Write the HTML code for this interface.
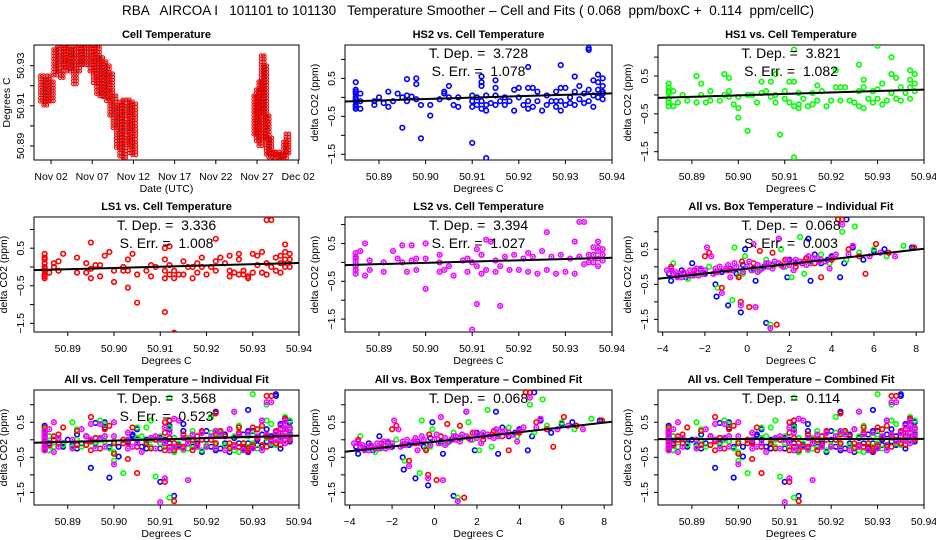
<!DOCTYPE html>
<html><head><meta charset="utf-8">
<style>
html,body{margin:0;padding:0;background:#fff}
svg{display:block}
text{font-family:"Liberation Sans",sans-serif;white-space:pre}
</style></head>
<body>
<svg id="chart" width="936" height="540" viewBox="0 0 936 540" xmlns="http://www.w3.org/2000/svg">
<text x="468" y="15" text-anchor="middle" font-size="13.5">RBA   AIRCOA I   101101 to 101130   Temperature Smoother – Cell and Fits ( 0.068  ppm/boxC +  0.114  ppm/cellC)</text>
</svg>
<script>
// ---- Panel 1: cell temperature time series (days since Nov 1) ----
const tsDays = [0.9,1.3,1.7,2.1,2.5,2.9,3.3,3.7,4.1,4.5,4.9,5.3,5.7,6.1,6.5,6.9,7.3,7.7,8.1,8.5,8.9,9.3,9.7,10.1,10.5,10.9,11.3,11.7,12.1,26.8,27.1,27.4,27.7,28.0,28.3,28.6,28.9,29.2,29.5,29.8,30.1,30.4,30.7];
const tsHigh = [50.925,50.923,50.925,50.922,50.938,50.940,50.940,50.939,50.940,50.938,50.940,50.940,50.939,50.940,50.940,50.940,50.939,50.940,50.934,50.932,50.930,50.926,50.915,50.910,50.912,50.913,50.913,50.912,50.911,50.915,50.918,50.922,50.935,50.930,50.905,50.894,50.887,50.886,50.887,50.886,50.886,50.892,50.896];
const tsLow = [50.912,50.910,50.911,50.912,50.925,50.926,50.924,50.928,50.926,50.928,50.920,50.927,50.930,50.929,50.930,50.926,50.920,50.916,50.914,50.914,50.912,50.905,50.898,50.889,50.884,50.884,50.890,50.886,50.885,50.895,50.892,50.890,50.905,50.893,50.885,50.884,50.884,50.884,50.884,50.884,50.884,50.884,50.885];
const tsTickDays = [2,7,12,17,22,27,32];
const tsTickLabels = ["Nov 02","Nov 07","Nov 12","Nov 17","Nov 22","Nov 27","Dec 02"];

// ---- Cell temperature scatter data ----
const hs2Cell = [50.885,50.885,50.885,50.885,50.885,50.885,50.885,50.885,50.885,50.885,50.886,50.886,50.886,50.889,50.889,50.890,50.891,50.892,50.892,50.893,50.894,50.895,50.895,50.896,50.896,50.896,50.897,50.898,50.898,50.898,50.899,50.899,50.901,50.901,50.903,50.904,50.904,50.905,50.905,50.906,50.907,50.907,50.910,50.910,50.910,50.910,50.911,50.911,50.912,50.912,50.912,50.912,50.912,50.913,50.913,50.913,50.913,50.914,50.915,50.915,50.915,50.915,50.916,50.917,50.917,50.918,50.919,50.919,50.920,50.920,50.921,50.922,50.922,50.922,50.922,50.923,50.923,50.924,50.924,50.925,50.926,50.926,50.927,50.928,50.928,50.928,50.929,50.929,50.929,50.929,50.930,50.930,50.931,50.931,50.932,50.932,50.932,50.933,50.933,50.934,50.934,50.935,50.935,50.935,50.935,50.936,50.936,50.936,50.937,50.937,50.937,50.937,50.938,50.938,50.938,50.938,50.938];
const hs2Delta = [0.4,0.15,0.1,0,-0.1,-0.2,-0.3,0.2,-0.05,-0.25,0.1,-0.1,-0.3,-0.1,-0.2,0,-0.15,0.15,-0.25,-0.1,0.1,-0.8,0,0.48,0.05,-0.1,0.02,0.5,0.35,-0.05,-0.2,-1.08,-0.2,-0.48,-0.05,0.1,0.15,0.3,0,-0.2,0,-0.25,-1.2,0.05,-0.1,-0.25,0,-0.2,0.55,0.4,0.3,-0.1,-0.3,-1.6,-0.35,0.05,-0.2,-0.15,0.45,0.25,0.05,-0.2,-0.1,0,-0.2,-0.1,-0.35,0.2,0.25,0,-0.2,0.8,0.25,-0.1,-0.3,0.25,-0.25,0.15,-0.1,-0.35,-0.2,0.05,-0.1,0.15,-0.25,-0.1,0.85,0.25,-0.35,-0.1,0.25,-0.2,-0.15,0,0.55,0.15,-0.2,0.3,-0.05,0.1,-0.15,1.3,1.25,0.2,-0.1,0.45,0.05,-0.25,0.6,0.4,0.2,0,0.5,0.3,0.1,0.15,-0.05];
const hs1Cell = [50.885,50.885,50.885,50.885,50.885,50.885,50.885,50.886,50.886,50.887,50.888,50.889,50.891,50.891,50.892,50.892,50.893,50.894,50.894,50.896,50.897,50.897,50.898,50.898,50.898,50.899,50.900,50.900,50.900,50.902,50.902,50.903,50.904,50.905,50.905,50.906,50.907,50.907,50.908,50.908,50.908,50.909,50.910,50.910,50.911,50.911,50.912,50.912,50.912,50.912,50.913,50.913,50.913,50.914,50.915,50.916,50.916,50.917,50.917,50.918,50.919,50.920,50.921,50.921,50.922,50.922,50.923,50.924,50.925,50.926,50.926,50.926,50.927,50.927,50.927,50.928,50.929,50.929,50.930,50.930,50.930,50.931,50.931,50.932,50.933,50.933,50.933,50.934,50.934,50.935,50.935,50.936,50.937,50.937,50.937,50.937,50.938,50.938,50.938];
const hs1Delta = [0.3,0.2,0.1,-0.1,-0.3,0.05,-0.2,0.1,-0.3,-0.2,0,-0.15,0.5,-0.2,0.3,0,-0.2,0.1,-0.15,-0.15,0.55,0,0.45,0.1,-0.05,-0.25,-0.05,-0.35,-0.6,-0.95,0,0,-0.2,0.35,0.05,0.1,0.35,-0.05,0.55,0,-0.2,-1.05,0.1,-0.1,0.35,-0.2,1.2,0.35,-0.3,-1.65,0.05,-0.25,-0.35,-0.1,-0.3,0.05,-0.25,0.25,-0.15,0.1,-0.3,-0.15,0.65,0.2,0.2,-0.15,0.2,-0.15,-0.2,0.8,0.1,-0.3,0.4,0.2,-0.35,-0.1,0.1,-0.2,1.3,0.15,-0.1,0.3,-0.25,-0.15,1.0,0.55,0.05,0.45,-0.1,0.2,-0.15,0.05,0.65,0.4,0.2,-0.1,0.55,0.3,0.1];
const ls1Cell = [50.885,50.885,50.885,50.885,50.885,50.885,50.885,50.885,50.885,50.885,50.886,50.887,50.887,50.888,50.888,50.889,50.892,50.892,50.894,50.894,50.895,50.895,50.895,50.896,50.897,50.897,50.898,50.899,50.900,50.900,50.902,50.902,50.903,50.903,50.903,50.904,50.905,50.905,50.907,50.908,50.908,50.909,50.911,50.911,50.911,50.911,50.911,50.912,50.912,50.912,50.913,50.913,50.913,50.914,50.915,50.915,50.916,50.917,50.917,50.918,50.918,50.919,50.919,50.920,50.921,50.922,50.922,50.922,50.923,50.924,50.925,50.925,50.925,50.926,50.927,50.927,50.927,50.928,50.928,50.929,50.929,50.930,50.930,50.931,50.931,50.932,50.932,50.933,50.933,50.933,50.934,50.934,50.935,50.935,50.936,50.936,50.936,50.937,50.937,50.937,50.937,50.938,50.938,50.938];
const ls1Delta = [0.35,0.2,0.1,0,-0.1,-0.2,-0.3,-0.25,0.25,-0.05,-0.15,0.1,0,0.15,-0.1,0.35,0.25,-0.15,0.1,-0.15,0.65,-0.3,-0.05,0.05,0.05,-0.25,0.3,0.4,-0.1,-0.4,0,-0.1,0.2,-0.1,-0.55,0.35,-0.95,-0.2,-0.1,0.05,-0.25,0,0.5,0.2,-0.1,-1.2,-0.3,0.55,0.05,-0.2,-1.75,-0.1,-0.3,-0.2,0.15,-0.2,0,-0.3,0,0.1,-0.15,0.25,0,-0.2,0,0.75,0.15,-0.1,0.25,0.1,0.3,-0.1,-0.25,-0.15,0.35,0.2,-0.2,-0.1,-0.2,-0.25,-0.3,0.35,-0.15,0.3,0.05,0.4,-0.15,1.25,0.1,-0.2,1.25,0,0.25,-0.1,0.3,0.1,-0.15,0.6,0.4,0.2,0,0.35,0.2,0];
const ls2Cell = [50.885,50.885,50.885,50.885,50.885,50.885,50.885,50.886,50.887,50.887,50.888,50.888,50.891,50.891,50.893,50.894,50.895,50.895,50.896,50.897,50.897,50.898,50.898,50.900,50.900,50.900,50.903,50.903,50.903,50.904,50.905,50.906,50.908,50.909,50.909,50.910,50.910,50.911,50.911,50.911,50.912,50.912,50.913,50.913,50.914,50.915,50.915,50.916,50.916,50.917,50.918,50.919,50.920,50.921,50.922,50.922,50.923,50.924,50.925,50.926,50.926,50.927,50.928,50.929,50.930,50.931,50.932,50.932,50.933,50.933,50.934,50.934,50.935,50.935,50.936,50.936,50.936,50.937,50.937,50.937,50.937,50.937,50.938,50.938,50.938];
const ls2Delta = [0.25,0.1,0,-0.1,-0.2,-0.3,0.15,0.3,0.5,-0.35,0.05,-0.2,0,-0.25,0.3,0.1,0.45,0,-0.25,0.45,0.05,0.1,-0.2,0.5,0.1,-0.7,0.2,0,-0.25,-0.2,-0.1,-0.35,0.05,0.1,-0.25,-1.78,0,0.35,-0.1,-1.1,0.2,-0.3,0.6,-0.2,0.55,0.05,-0.25,-1.15,-0.1,0.15,-0.2,0.2,-0.2,0.1,0.25,-0.25,0.15,-0.3,0.3,0.8,-0.2,0.15,-0.3,0.2,-0.25,0.1,0.55,-0.3,1.07,0.15,1.07,-0.05,0.2,0,0.4,0.2,0,0.55,0.4,0.3,0.1,-0.1,0.35,0.2,0.05];

// ---- Box temperature scatter data ----
const hs2Box = [-3.7,-3.6,-3.1,-2.6,-2.2,-1.5,-1.45,-0.9,-0.3,-0.5,-0.1,0.4,0.9,1.5,1.9,2.3,2.9,3.0,3.5,4.0,4.4,4.7,4.6,5.0,5.5,6.0,6.5,7.8,-2.9,0.8,2.0,3.2,-1.2,-0.2,-3.3,-2.0,-0.8,0.3,1.2,2.6,3.8];
const hs2BoxDelta = [-0.2,-0.4,-0.1,0.1,-0.1,-0.5,-0.85,-1.1,-1.3,-0.2,0.5,-0.4,-1.6,0.8,-0.3,0.1,0.8,-0.4,0.1,0.3,-0.3,1.35,0.1,0.55,0.2,0.45,0.5,0.55,-0.3,0,0.2,0.35,-0.15,0.05,-0.25,-0.2,-0.05,-0.05,0.05,0.1,0.2];
const hs1Box = [-3.5,-2.8,-2.2,-1.4,-0.7,-0.6,-0.1,0.3,1.1,1.6,2.5,2.7,3.5,4.5,5.1,4.7,5.3,6.0,6.6,7.4,-1.8,0.9,2.1,3.9,-3.0,1.3,-0.2,-2.5,-0.4,0.6,1.8,3.0];
const hs1BoxDelta = [0.1,-0.35,-0.2,-0.6,-0.95,0.55,0.3,-0.1,-1.65,0.5,0.85,-0.2,0.35,1.0,1.15,0.2,0.4,0.5,0.3,0.6,0,0.2,-0.3,0.1,-0.15,0.05,-0.2,-0.25,-0.25,-0.1,0,0.15];
const ls1Box = [-3.6,-3.0,-2.0,-1.8,-1.2,-0.3,-0.25,0.1,1.4,0.6,1.2,1.8,2.8,3.5,4.3,4.5,4.8,5.6,6.1,6.7,7.9,-0.4,2.3,3.2,4.0,5.3,-2.5,0.3,-1.5,-0.9,1.6,2.7];
const ls1BoxDelta = [0,-0.2,0.3,0.4,-0.6,-1.0,0.15,-1.15,-1.65,0.45,0.4,0.2,0.25,-0.3,1.35,1.35,0.5,-0.2,0.65,0.4,0.55,-0.3,0,0.1,0.2,0.3,-0.1,0.1,-0.15,-0.1,0.05,0.15];
const ls2Box = [-3.8,-3.2,-2.7,-1.9,-1.7,-1.2,-0.3,0.4,1.1,0.3,1.0,1.5,2.2,2.9,3.9,4.5,5.0,5.8,7.0,-0.8,-2.3,0.5,1.9,3.4,4.2,6.3,-1.0,2.6,-3.5,-3.0,-2.5,-2.0,-1.5,-1.0,-0.5,0,0.5,1.0,1.5,2.0,2.5,3.0,3.5,4.0,-3.3,-2.8,-2.2,-1.6,-0.9,-0.2,0.7,1.3,2.3,3.3,4.8,-3.6,-3.1,-2.6,-2.1,-1.4,-0.7,0.2,0.9,1.7,2.8,3.7,-3.4,-2.4,-1.3,-0.6,0.1,1.2,2.1,3.1];
const ls2BoxDelta = [-0.1,-0.2,-0.1,0.55,0.3,-0.75,-1.1,-1.15,-1.75,0.65,0.1,0.8,-0.1,0.3,-0.05,1.2,0.6,0.3,0.3,-0.3,-0.25,-0.15,0.2,0.15,0.35,0.4,-0.05,0.1,-0.2,-0.15,-0.2,-0.1,-0.05,-0.1,0,0,0.05,0,0.1,0.05,0.15,0.1,0.2,0.25,-0.3,-0.25,-0.05,-0.2,0.05,-0.15,-0.05,0.15,0.2,0.25,0.35,-0.05,-0.3,-0.25,-0.2,-0.15,-0.1,-0.1,0.1,0,0.05,0.15,-0.15,-0.05,0,0.1,0.15,-0.05,0.15,0.25];

// ---- Fit results ----
const fitSlopes = [3.728,3.821,3.336,3.394,0.068,3.568,0.068,0.114];
const tDepLabels = ["3.728","3.821","3.336","3.394","0.068","3.568","0.068","0.114"];
const sErrLabels = ["1.078","1.082","1.008","1.027","0.003","0.523","",""];

const cellTicks = [50.89,50.90,50.91,50.92,50.93,50.94];
const cellTickLabels = ["50.89","50.90","50.91","50.92","50.93","50.94"];
const boxTicks = [-4,-2,0,2,4,6,8];
const boxTickLabels = ["\u22124","\u22122","0","2","4","6","8"];
const deltaTicks = [-1.5,-1,-0.5,0,0.5,1];
const deltaTickLabels = ["\u22121.5","","\u22120.5","","0.5",""];

const NS = "http://www.w3.org/2000/svg";
const svg = document.getElementById("chart");
const COL = { blue:"#0000ff", green:"#00ff00", red:"#ff0000", mag:"#ff00ff" };
let clipId = 0;

function mk(tag, attrs, parent){
  const e = document.createElementNS(NS, tag);
  for (const k in attrs) e.setAttribute(k, attrs[k]);
  (parent||svg).appendChild(e);
  return e;
}

function makePanel(name, x0, y0, w, h, xdom, ydom, title){
  const g = mk("g", {});
  
  
  const sx = v => x0 + (v - xdom[0]) / (xdom[1]-xdom[0]) * w;
  const sy = v => y0 + h - (v - ydom[0]) / (ydom[1]-ydom[0]) * h;
  const t = mk("text", {x:x0+w/2, y:y0-7, "text-anchor":"middle", "font-size":"11", "font-weight":"bold"}, g);
  
  
  t.textContent = title;
  const box = mk("rect", {x:x0, y:y0, width:w, height:h, fill:"none", stroke:"#000", "stroke-width":"1"}, g);
  
  
  clipId++;
  const cp = mk("clipPath", {id:"cp"+clipId}, g);
  mk("rect", {x:x0, y:y0, width:w, height:h}, cp);
  const plot = mk("g", {"clip-path":"url(#cp"+clipId+")"}, g);
  
  
  return {g, plot, sx, sy, x0, y0, w, h};
}

function xAxis(p, ticks, labels, title){
  const yb = p.y0 + p.h;
  const ax = mk("g", {}, p.g);
  
  
  ticks.forEach((v,i) => {
    const x = p.sx(v);
    mk("line", {x1:x, x2:x, y1:yb, y2:yb+4, stroke:"#000"}, ax);
    const t = mk("text", {x:x, y:yb+20, "text-anchor":"middle", "font-size":"10.5"}, ax);
    
    
    t.textContent = labels[i];
  });
  const tt = mk("text", {x:p.x0+p.w/2, y:yb+32, "text-anchor":"middle", "font-size":"10.5"}, ax);
  
  
  tt.textContent = title;
}

function yAxis(p, ticks, labels, title, off){
  const ax = mk("g", {}, p.g);
  
  
  ticks.forEach((v,i) => {
    const y = p.sy(v);
    if (y < p.y0-0.5 || y > p.y0+p.h+0.5) return;
    mk("line", {x1:p.x0-4, x2:p.x0, y1:y, y2:y, stroke:"#000"}, ax);
    if (labels[i]) {
      const tx = p.x0 - 10;
      const t = mk("text", {x:tx, y:y, "text-anchor":"middle", "font-size":"10.5", transform:"rotate(-90 "+tx+" "+y+")"}, ax);
      
      
      t.textContent = labels[i];
    }
  });
  const tx = p.x0 - (off||24), ty = p.y0 + p.h/2;
  const tt = mk("text", {x:tx, y:ty, "text-anchor":"middle", "font-size":"10.5", transform:"rotate(-90 "+tx+" "+ty+")"}, ax);
  
  
  tt.textContent = title;
}

function points(p, xs, ys, color, name){
  const g = mk("g", {}, p.plot);
  
  
  const n = Math.min(xs.length, ys.length);
  for (let i=0;i<n;i++){
    const c = mk("circle", {cx:p.sx(xs[i]), cy:p.sy(ys[i]), r:"2.3", fill:"none", stroke:color, "stroke-width":"1.6"}, g);
    
    
    if (color === COL.mag) {
      const d = mk("circle", {cx:p.sx(xs[i]), cy:p.sy(ys[i]), r:"0.9", fill:"#3030ff"}, g);
      
      
    }
  }
}

function fitLine(p, xsList, ysList, slope, xdom){
  let sx=0, sy=0, n=0;
  xsList.forEach((xs,k) => { const ys = ysList[k]; const m = Math.min(xs.length, ys.length);
    for (let i=0;i<m;i++){ sx+=xs[i]; sy+=ys[i]; n++; } });
  const mx = sx/n, my = sy/n;
  const l = mk("line", {x1:p.sx(xdom[0]), y1:p.sy(my + slope*(xdom[0]-mx)), x2:p.sx(xdom[1]), y2:p.sy(my + slope*(xdom[1]-mx)), stroke:"#000", "stroke-width":"2"}, p.plot);
  
  
}

function annot(p, idx){
  const cx = p.x0 + p.w/2;
  const t1 = mk("text", {x:cx, y:p.y0+13, "text-anchor":"middle", "font-size":"14"}, p.g);
  
  
  t1.textContent = "T. Dep. =  " + tDepLabels[idx];
  if (sErrLabels[idx]) {
    const t2 = mk("text", {x:cx, y:p.y0+31, "text-anchor":"middle", "font-size":"14"}, p.g);
    
    
    t2.textContent = "S. Err. =  " + sErrLabels[idx];
  }
}

const cols = [[34,265],[345,267],[658,266]];
const rows = [[45,115],[217,115],[390,115]];
const cellDom = [50.8827, 50.94];
const boxDom = [-4.22, 8.37];

// Panel 1
(function(){
  const p = makePanel("cell-temperature-panel", cols[0][0], rows[0][0], cols[0][1], rows[0][1], [-0.07, 32.1], [50.883, 50.9403], "Cell Temperature");
  const g = mk("g", {}, p.plot);
  
  
  const n = tsDays.length;
  for (let i=0;i<n;i++){
    const x = p.sx(tsDays[i]);
    const yh = p.sy(tsHigh[i]), yl = p.sy(tsLow[i]);
    for (let dx=-1; dx<=1; dx+=2){
      for (let y=yh; y<=yl+0.01; y+=3.2){
        const c = mk("circle", {cx:x+dx*1.6, cy:y, r:"1.8", fill:"none", stroke:"#ff0000", "stroke-width":"1.1"}, g);
        
        
        const d = mk("circle", {cx:x+dx*1.6, cy:y, r:"0.6", fill:"#000"}, g);
        
        
      }
    }
  }
  xAxis(p, tsTickDays, tsTickLabels, "Date (UTC)");
  const yt = [50.89,50.90,50.91,50.92,50.93];
  yAxis(p, yt, ["50.89","","50.91","","50.93"], "Degrees C", 24);
})();

function cellPanel(name, ci, ri, ydom, title, series, idx, ann){
  const p = makePanel(name, cols[ci][0], rows[ri][0], cols[ci][1], rows[ri][1], cellDom, ydom, title);
  series.forEach(s => points(p, s[0], s[1], s[2], s[3]));
  fitLine(p, series.map(s=>s[0]), series.map(s=>s[1]), fitSlopes[idx], cellDom);
  if (ann) annot(p, idx);
  xAxis(p, cellTicks, cellTickLabels, "Degrees C");
  yAxis(p, deltaTicks, deltaTickLabels, "delta CO2 (ppm)", 27);
}
function boxPanel(name, ci, ri, ydom, title, series, idx){
  const p = makePanel(name, cols[ci][0], rows[ri][0], cols[ci][1], rows[ri][1], boxDom, ydom, title);
  series.forEach(s => points(p, s[0], s[1], s[2], s[3]));
  fitLine(p, series.map(s=>s[0]), series.map(s=>s[1]), fitSlopes[idx], boxDom);
  annot(p, idx);
  xAxis(p, boxTicks, boxTickLabels, "Degrees C");
  yAxis(p, deltaTicks, deltaTickLabels, "delta CO2 (ppm)", 27);
}

const cellAll = [[hs2Cell,hs2Delta,COL.blue,"hs2-points"],[hs1Cell,hs1Delta,COL.green,"hs1-points"],[ls1Cell,ls1Delta,COL.red,"ls1-points"],[ls2Cell,ls2Delta,COL.mag,"ls2-points"]];
const boxAll = [[hs2Box,hs2BoxDelta,COL.blue,"hs2-points"],[hs1Box,hs1BoxDelta,COL.green,"hs1-points"],[ls1Box,ls1BoxDelta,COL.red,"ls1-points"],[ls2Box,ls2BoxDelta,COL.mag,"ls2-points"]];

cellPanel("hs2-panel",1,0,[-1.65,1.38],"HS2 vs. Cell Temperature",[cellAll[0]],0,true);
cellPanel("hs1-panel",2,0,[-1.72,1.32],"HS1 vs. Cell Temperature",[cellAll[1]],1,true);
cellPanel("ls1-panel",0,1,[-1.73,1.33],"LS1 vs. Cell Temperature",[cellAll[2]],2,true);
cellPanel("ls2-panel",1,1,[-1.84,1.2],"LS2 vs. Cell Temperature",[cellAll[3]],3,true);
boxPanel("all-box-individual-panel",2,1,[-1.86,1.42],"All vs. Box Temperature \u2013 Individual Fit",boxAll,4);
cellPanel("all-cell-individual-panel",0,2,[-1.86,1.42],"All vs. Cell Temperature \u2013 Individual Fit",cellAll,5,true);
boxPanel("all-box-combined-panel",1,2,[-1.86,1.42],"All vs. Box Temperature \u2013 Combined Fit",boxAll,6);
cellPanel("all-cell-combined-panel",2,2,[-1.86,1.42],"All vs. Cell Temperature \u2013 Combined Fit",cellAll,7,true);
</script>
</body></html>
